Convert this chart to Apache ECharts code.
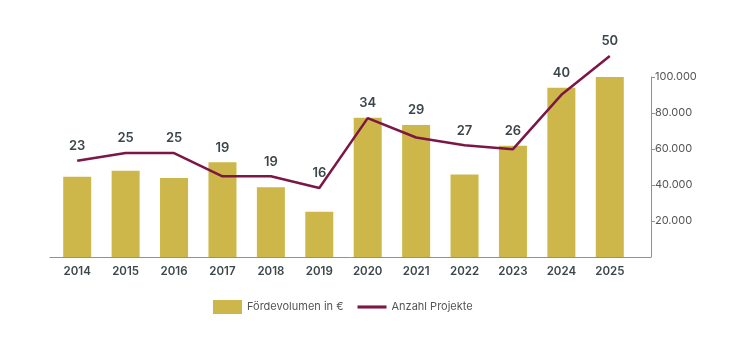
<!DOCTYPE html>
<html>
<head>
<meta charset="utf-8">
<script src="https://cdn.jsdelivr.net/npm/echarts@6/dist/echarts.min.js"></script>
<style>
  html, body { margin: 0; padding: 0; background: #fff; }
  #chart { width: 740px; height: 353px; }
</style>
</head>
<body>
<div id="chart"></div>
<script>
// Jahre, Fördervolumen (€) und Anzahl Projekte
const years = ['2014', '2015', '2016', '2017', '2018', '2019', '2020', '2021', '2022', '2023', '2024', '2025'];
const volume = [44600, 47900, 43900, 52600, 38700, 25200, 77400, 73300, 45900, 61800, 94000, 100000];
const projects = [23, 25, 25, 19, 19, 16, 34, 29, 27, 26, 40, 50];

const GOLD = '#cdb74a';
const WINE = '#7b1646';
const TEXT = '#3d474b';
const AXIS = '#8c9296';
const FONT = 'Inter, "Noto Sans", sans-serif';

const chart = echarts.init(document.getElementById('chart'));

function fmt(v) {
  return String(v).replace(/\B(?=(\d{3})+(?!\d))/g, '.');
}

function buildOption(offsets) {
  return {
    animation: false,
    textStyle: { fontFamily: FONT },
    legend: {
      left: 208,
      top: 295,
      itemWidth: 29,
      itemHeight: 14,
      itemGap: 14,
      textStyle: { color: '#555', fontSize: 11, fontFamily: FONT },
      data: [
        { name: 'Fördevolumen in €', icon: 'rect' },
        { name: 'Anzahl Projekte', icon: 'path://M0,0h28v3h-28z' },
      ],
    },
    grid: [
      { left: 53, right: 106, top: 77, bottom: 96 },
      { left: 50, right: 89, top: 77, bottom: 96 },
    ],
    xAxis: [
      {
        type: 'category',
        gridIndex: 0,
        data: years,
        axisLine: { show: false },
        axisTick: { show: false },
        axisLabel: { color: TEXT, fontSize: 11.5, fontWeight: 600, margin: 9 },
      },
      {
        type: 'value',
        gridIndex: 1,
        min: 0,
        max: 1,
        axisLine: { show: true, onZero: false, lineStyle: { color: AXIS, width: 1 } },
        axisTick: { show: false },
        axisLabel: { show: false },
        splitLine: { show: false },
      },
    ],
    yAxis: [
      {
        type: 'value',
        gridIndex: 0,
        min: 0,
        max: 100000,
        show: false,
      },
      {
        type: 'value',
        gridIndex: 0,
        min: -1.8,
        max: 44.6,
        show: false,
      },
      {
        type: 'value',
        gridIndex: 1,
        position: 'right',
        min: 0,
        max: 100000,
        interval: 20000,
        axisLine: { show: true, onZero: false, lineStyle: { color: AXIS, width: 1 } },
        axisTick: { show: true, length: 4, lineStyle: { color: AXIS } },
        axisLabel: {
          color: '#555',
          fontSize: 11,
          margin: 4,
          showMinLabel: false,
          formatter: (v) => (v === 0 ? '' : fmt(v)),
        },
        splitLine: { show: false },
      },
    ],
    series: [
      {
        name: 'Fördevolumen in €',
        type: 'bar',
        xAxisIndex: 0,
        yAxisIndex: 0,
        data: volume,
        barWidth: 28,
        itemStyle: { color: GOLD },
      },
      {
        name: 'Anzahl Projekte',
        type: 'line',
        xAxisIndex: 0,
        yAxisIndex: 1,
        clip: false,
        symbol: 'circle',
        symbolSize: 0,
        lineStyle: { color: WINE, width: 2.5 },
        itemStyle: { color: WINE },
        data: projects.map((v, i) => ({
          value: v,
          label: { offset: [0, offsets ? -offsets[i] : 0] },
        })),
        label: {
          show: true,
          position: 'top',
          distance: 8,
          color: TEXT,
          fontSize: 13,
          fontWeight: 600,
        },
        z: 3,
      },
    ],
  };
}

chart.setOption(buildOption(null));

// Zahlen über dem höheren von Balken und Linie platzieren
const offsets = projects.map((v, i) => {
  const pLine = chart.convertToPixel({ xAxisIndex: 0, yAxisIndex: 1 }, [i, v])[1];
  const pBar = chart.convertToPixel({ xAxisIndex: 0, yAxisIndex: 0 }, [i, volume[i]])[1];
  return Math.max(0, pLine - pBar);
});
chart.setOption(buildOption(offsets), true);
</script>
</body>
</html>
